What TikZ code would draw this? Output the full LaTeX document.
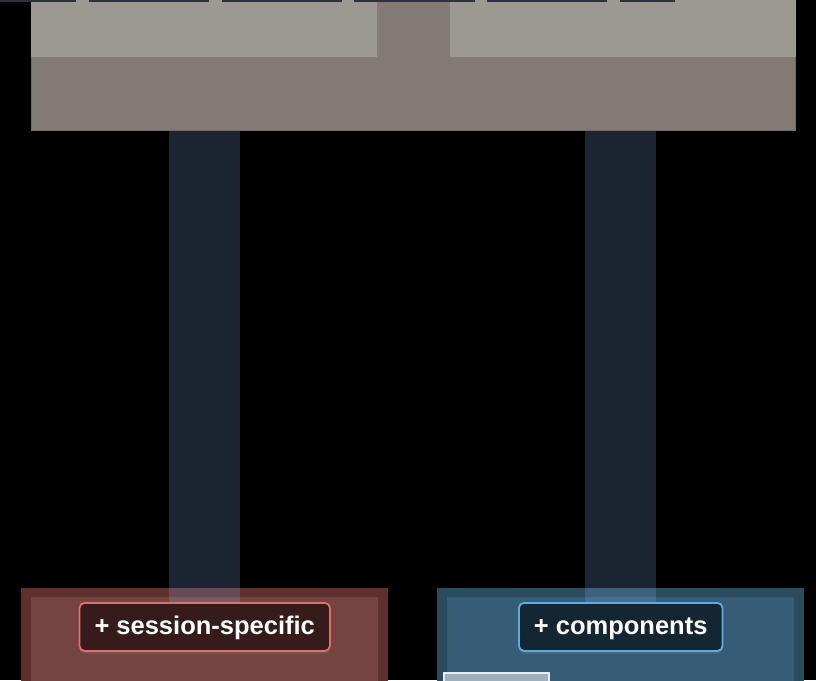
\documentclass[tikz,border=0pt]{standalone}
\usepackage{fontspec}
\setmainfont{Liberation Sans}
\usetikzlibrary{positioning, shadows}

\definecolor{tabslate}{HTML}{2C323D}
\definecolor{panelgray}{HTML}{827A74}
\definecolor{shelfgray}{HTML}{9C9892}
\definecolor{linkblue}{RGB}{135,180,245}
\definecolor{sessouter}{HTML}{5E302E}
\definecolor{sessinner}{HTML}{754441}
\definecolor{sesstag}{HTML}{361B1B}
\definecolor{sessline}{HTML}{E0706A}
\definecolor{compouter}{HTML}{2B4B5F}
\definecolor{compinner}{HTML}{365D75}
\definecolor{comptag}{HTML}{152633}
\definecolor{compline}{HTML}{5BAEE3}
\definecolor{chipfill}{HTML}{9DB0BC}
\definecolor{chipline}{HTML}{E6ECEF}

\begin{document}
\begin{tikzpicture}[x=1pt, y=-1pt,
  block/.style={inner sep=0pt, draw=none},
  shelf/.style={block, fill=shelfgray, minimum height=57pt, minimum width=346pt},
  link/.style={draw=linkblue, draw opacity=0.2, line width=71pt},
  tag/.style={rounded corners=5pt, line width=1.8pt, text=white, inner xsep=15pt,
    text height=18pt, text depth=2pt, minimum height=48pt,
    font=\fontsize{25.5}{30}\selectfont\bfseries,
    drop shadow={opacity=0.25, shadow xshift=0pt, shadow yshift=-3pt}}]
\clip (0,0) rectangle (816,680);
\fill[black] (0,0) rectangle (816,680);

% top panel
\node[block, fill=panelgray, draw=panelgray!90!black, line width=0.8pt,
  minimum width=764pt, minimum height=130pt, anchor=north west] (panel) at (31,0) {};
\node[shelf, anchor=north west] (shelfL) at (panel.north west) {};
\node[shelf, anchor=north east] (shelfR) at (panel.north east) {};
\foreach \x/\w in {0/76, 89/120, 222/120, 354/121, 487/120, 620/55}
  \fill[tabslate] (\x,0) rectangle ++(\w,2);

% bottom boxes
\node[block, fill=sessouter, minimum width=367pt, minimum height=140pt,
  anchor=north west] (session) at (21,588) {};
\node[block, fill=sessinner, minimum width=347pt, minimum height=130pt,
  anchor=north] (sessionIn) at ([yshift=-9pt]session.north) {};
\node[block, fill=compouter, minimum width=367pt, minimum height=140pt,
  anchor=north west] (comps) at (437,588) {};
\node[block, fill=compinner, minimum width=347pt, minimum height=130pt,
  anchor=north] (compsIn) at ([yshift=-9pt]comps.north) {};
\node[block, fill=chipfill, draw=chipline, line width=1.5pt,
  minimum width=105pt, minimum height=30pt, anchor=north west] (chip) at (443,672) {};

% labels
\node[tag, fill=sesstag, draw=sessline, below=14pt of session.north] (sessionTag)
  {+ session-specific};
\node[tag, fill=comptag, draw=compline, below=14pt of comps.north] (compsTag)
  {+ components};

% links
\draw[link] (sessionTag.north |- panel.south) -- (sessionTag.north);
\draw[link] (compsTag.north |- panel.south) -- (compsTag.north);
\end{tikzpicture}
\end{document}
